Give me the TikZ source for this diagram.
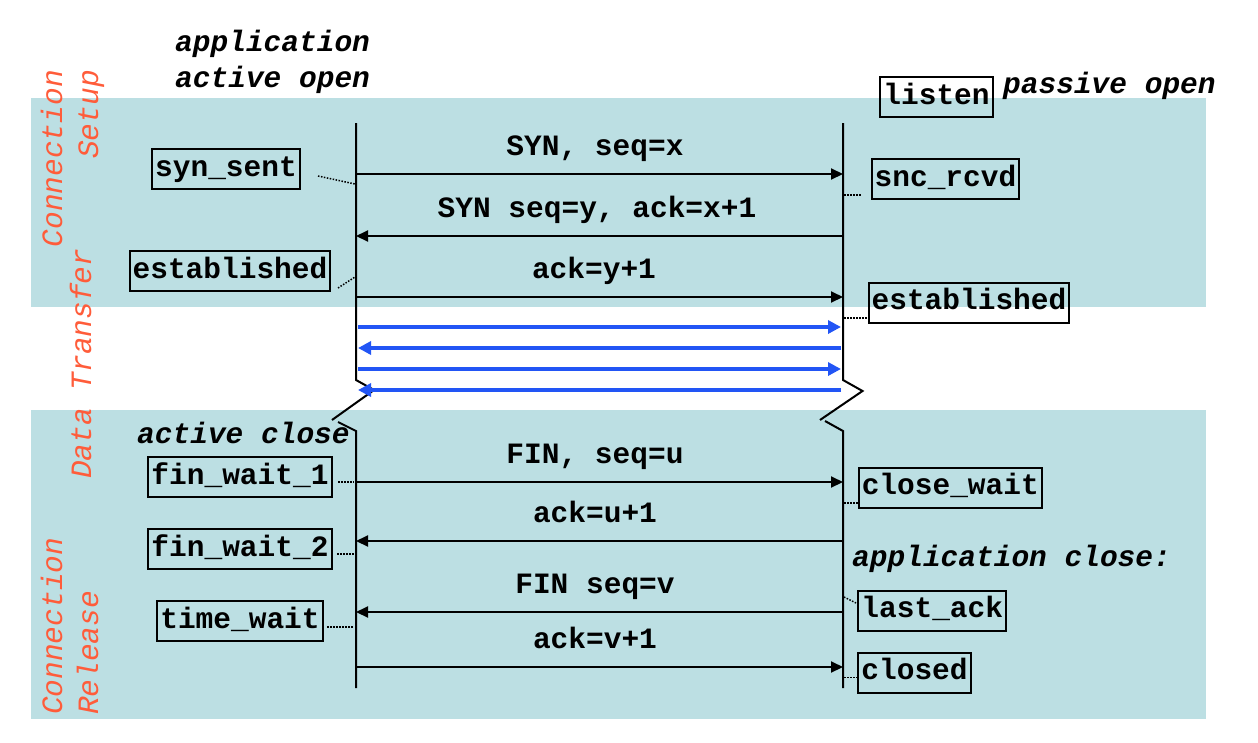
\documentclass[tikz,border=0pt]{standalone}
\usepackage{fontspec}
\setmonofont{Liberation Mono}
\usetikzlibrary{arrows.meta}
\definecolor{band}{RGB}{188,223,227}
\definecolor{orng}{RGB}{255,92,58}
\definecolor{blu}{RGB}{34,85,245}
\begin{document}
\begin{tikzpicture}[x=1pt,y=-1pt,
  msg/.style={font=\ttfamily\bfseries\fontsize{29.5}{36}\selectfont, inner sep=0pt},
  state/.style={msg, draw, line width=2pt, inner xsep=3pt, inner ysep=0pt, minimum height=40pt, text height=20pt, text depth=6pt},
  note/.style={font=\ttfamily\bfseries\itshape\fontsize{29.5}{36}\selectfont, inner sep=0pt, align=left},
  phase/.style={font=\ttfamily\itshape\fontsize{29.5}{36}\selectfont, text=orng, inner sep=0pt, rotate=90},
  life/.style={line width=2pt},
  arr/.style={line width=2pt, -{Triangle[length=12pt,width=11pt]}},
  data/.style={line width=4pt, blu, -{Triangle[length=13pt,width=13pt]}},
  link/.style={line width=1.5pt, dash pattern=on 1.5pt off 1.5pt},
]
\useasboundingbox (0,0) rectangle (1258,742);
% bands
\fill[band] (31,98) rectangle (1206,307);
\fill[band] (31,410) rectangle (1206,719);

% phase labels
\node[phase, align=right, anchor=base east] (setup) at (98,70) {Connection\\Setup};
\node[phase, anchor=base west] (transfer) at (91,479) {Data Transfer};
\node[phase, align=left, anchor=base west] (release) at (98,715) {Connection\\Release};

% notes
\node[note, anchor=base west] (appopen) at (175,87) {application\\active open};
\node[note, anchor=base west] (passive) at (1003,93.5) {passive open};
\node[note, anchor=base west] (actclose) at (137,443) {active close};
\node[note, anchor=base west] (appclose) at (852,566.5) {application close:};

% lifelines
\coordinate (LT) at (356,123);
\coordinate (LM) at (356,380);
\coordinate (LZ1) at (374,390);
\coordinate (LZ2) at (332,420);
\coordinate (LZ3) at (338,422);
\coordinate (LN) at (356,431);
\coordinate (LB) at (356,688);
\coordinate (RT) at (843,123);
\coordinate (RM) at (843,380);
\coordinate (RZ1) at (862.5,391);
\coordinate (RZ2) at (820,420);
\coordinate (RZ3) at (825,421);
\coordinate (RN) at (843,431);
\coordinate (RB) at (843,688);
\draw[life] (LT) -- (LM) -- (LZ1) -- (LZ2);
\draw[life] (LZ3) -- (LN) -- (LB);
\draw[life] (RT) -- (RM) -- (RZ1) -- (RZ2);
\draw[life] (RZ3) -- (RN) -- (RB);

% messages
\foreach \n/\y in {1/174,2/236,3/297,4/482,5/541,6/612,7/667}{
  \coordinate (L\n) at (356,\y);
  \coordinate (R\n) at (843,\y);
}
\draw[arr] (L1) -- (R1);
\draw[arr] (R2) -- (L2);
\draw[arr] (L3) -- (R3);
\draw[arr] (L4) -- (R4);
\draw[arr] (R5) -- (L5);
\draw[arr] (R6) -- (L6);
\draw[arr] (L7) -- (R7);
\node[msg, anchor=base] (m1) at (595,155.5) {SYN, seq=x};
\node[msg, anchor=base] (m2) at (597,217.5) {SYN seq=y, ack=x+1};
\node[msg, anchor=base] (m3) at (594,278.5) {ack=y+1};
\node[msg, anchor=base] (m4) at (595,463.5) {FIN, seq=u};
\node[msg, anchor=base] (m5) at (595,522.5) {ack=u+1};
\node[msg, anchor=base] (m6) at (595,593.5) {FIN seq=v};
\node[msg, anchor=base] (m7) at (595,648.5) {ack=v+1};

% data transfer
\foreach \n/\y in {1/327,2/348,3/369,4/390}{
  \coordinate (DL\n) at (358,\y);
  \coordinate (DR\n) at (841,\y);
}
\draw[data] (DL1) -- (DR1);
\draw[data] (DR2) -- (DL2);
\draw[data] (DL3) -- (DR3);
\draw[data] (DR4) -- (DL4);

% states
\node[state] (synsent) at (226,169) {syn\_sent};
\node[state] (estL) at (230,271) {established};
\node[state] (fw1) at (240,477) {fin\_wait\_1};
\node[state] (fw2) at (240,549) {fin\_wait\_2};
\node[state] (tw) at (240,621) {time\_wait};
\node[state] (listen) at (936.5,97) {listen};
\node[state] (sncrcvd) at (945.5,179) {snc\_rcvd};
\node[state] (estR) at (969,302.5) {established};
\node[state] (cw) at (950.3,487.7) {close\_wait};
\node[state] (la) at (932.3,610.8) {last\_ack};
\node[state] (closed) at (914.5,672.8) {closed};

% dotted links
\coordinate (a1) at (318,176); \coordinate (b1) at (355,184);
\coordinate (a2) at (338,288); \coordinate (b2) at (355,277);
\coordinate (a3) at (338,482); \coordinate (b3) at (354,482);
\coordinate (a4) at (337,554); \coordinate (b4) at (354,554);
\coordinate (a5) at (327,627); \coordinate (b5) at (354,627);
\coordinate (c1) at (844,195); \coordinate (d1) at (861,195);
\coordinate (c2) at (844,318); \coordinate (d2) at (868,318);
\coordinate (c3) at (844,503); \coordinate (d3) at (858,503);
\coordinate (c4) at (844,597); \coordinate (d4) at (860,605);
\coordinate (c5) at (844,677.5); \coordinate (d5) at (858,677.5);
\foreach \i in {1,...,5}{
  \draw[link] (a\i) -- (b\i);
  \draw[link] (c\i) -- (d\i);
}
\end{tikzpicture}
\end{document}
